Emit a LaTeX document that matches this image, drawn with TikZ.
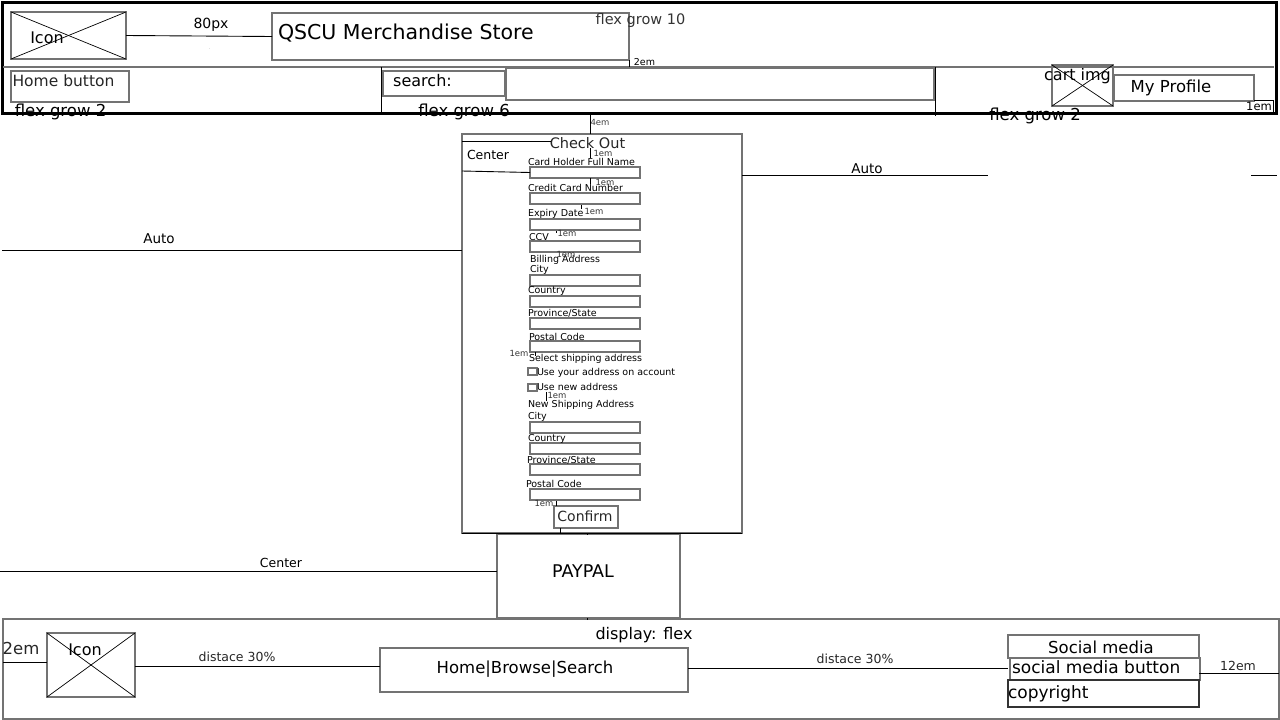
\documentclass[tikz,border=0pt]{standalone}
\usepackage{fontspec}
\setmainfont{DejaVu Sans}

\tikzset{
  panel/.style={draw=black!55, line width=1.4pt, anchor=north west, inner sep=0pt, outer sep=0pt},
  heavybox/.style={panel, line width=2.2pt},
  fieldbox/.style={panel, line width=1.3pt, minimum width=110, minimum height=11},
  checkbox/.style={panel, line width=1.2pt, minimum width=9, minimum height=7},
  wire/.style={draw=black, line width=0.9pt},
  txt/.style={inner sep=0pt, outer sep=0pt, font=\fontsize{#1}{#1}\selectfont},
  txt/.default=13,
  ltxt/.style={txt=#1, anchor=west}
}

\begin{document}
\begin{tikzpicture}[x=1pt, y=-1pt]
  \useasboundingbox (0,0) rectangle (1280,720);

  % Header
  \node[panel, draw=black, line width=3pt, minimum width=1274, minimum height=111] (header) at (2,2) {};
  \node[heavybox, minimum width=115, minimum height=47] (icon) at (11,12) {};
  \node[heavybox, minimum width=357, minimum height=47] (title) at (272,13) {};
  \node[heavybox, minimum width=118, minimum height=31] (home) at (11,71) {};
  \node[heavybox, minimum width=122, minimum height=25] (search) at (383,71) {};
  \node[heavybox, minimum width=428, minimum height=32] (searchinput) at (506,68) {};
  \node[heavybox, minimum width=61, minimum height=41] (cart) at (1052,65) {};
  \node[heavybox, minimum width=140, minimum height=26] (profile) at (1114,75) {};

  \node[txt=16] (iconlabel) at (47,38) {Icon};
  \node[ltxt=20.5] (titlelabel) at (278,33) {QSCU Merchandise Store};
  \node[txt=14.5, text=black!80] (growten) at (640.5,20) {flex grow 10};
  \node[txt=14] (px) at (211,25) {80px};
  \node[txt=3] (dot) at (209.5,49) {.};
  \node[txt=9.5] (twoem) at (644.5,62) {2em};
  \node[txt=15.5, text=black!85] (homelabel) at (63.5,81) {Home button};
  \node[txt=16] (searchlabel) at (422.5,81) {search:};
  \node[txt=16] (cartlabel) at (1077.5,76) {cart img};
  \node[txt=16.5] (profilelabel) at (1171,87.5) {My Profile};
  \node[txt=11.5] (oneemprofile) at (1259,106.5) {1em};
  \node[txt=16.5] (growa) at (60.5,112) {flex grow 2};
  \node[txt=16.5] (growb) at (464,112) {flex grow 6};
  \node[txt=16.5] (growc) at (1035,115.5) {flex grow 2};
  \node[txt=8.5, text=black!75] (fourem) at (600,122) {4em};

  % Checkout form
  \node[panel, minimum width=280, minimum height=399] (checkout) at (462,134) {};
  \node[txt=14.5, text=black!85] (checkoutlabel) at (587.5,143) {Check Out};
  \node[ltxt=12.5] (centerlabel) at (467,155) {Center};
  \node[txt=13.5] (autoa) at (867,169) {Auto};
  \node[txt=13.5] (autob) at (159,239) {Auto};

  \foreach \n/\y in {a/167,b/193,c/219,d/241,e/275,f/296,g/318,h/341,i/422,j/443,k/464,l/489}
    \node[fieldbox] (field\n) at (530,\y) {};
  \node[checkbox] (checka) at (528,368) {};
  \node[checkbox] (checkb) at (528,384) {};

  \foreach \n/\x/\y/\t in {
      a/528/162/Card Holder Full Name, b/528/188/Credit Card Number, c/528/214/Expiry Date,
      d/529/237/CCV, e/530/260/Billing Address, f/530/270/City, g/528/291/Country,
      h/528/313/Province\slash State, i/529/337/Postal Code, j/529/359/Select shipping address,
      k/537/373/Use your address on account, l/537/387/Use new address,
      m/528/405/New Shipping Address, n/528/417/City, o/528/439/Country,
      p/527/460/Province\slash State, q/526/484/Postal Code}
    \node[ltxt=9.5] (form\n) at (\x,\y) {\t};

  \foreach \n/\x/\y in {a/603/153,b/605/182,c/594/211,d/567/233,e/566/254,f/519/353,g/557/395,h/544/503}
    \node[txt=8.5, text=black!80] (oneem\n) at (\x,\y) {1em};

  \node[panel, line width=1.1pt, minimum width=64, minimum height=22] (confirm) at (554,506) {};
  \node[txt=14, text=black!85] (confirmlabel) at (585,516.5) {Confirm};
  \node[panel, minimum width=183, minimum height=84] (paypal) at (497,534) {};
  \node[txt=17.5] (paypallabel) at (583,571) {PAYPAL};
  \node[txt=12.5] (centerb) at (281,563) {Center};

  % Footer
  \node[panel, minimum width=1276, minimum height=100] (footer) at (3,619) {};
  \node[panel, minimum width=88, minimum height=64] (footicon) at (47,633) {};
  \node[panel, minimum width=308, minimum height=44] (links) at (380,648) {};
  \node[panel, minimum width=191, minimum height=23] (social) at (1008,635) {};
  \node[heavybox, line width=1.6pt, minimum width=190, minimum height=22] (socialbutton) at (1010,658) {};
  \node[panel, draw=black!80, minimum width=191, minimum height=27] (copyright) at (1008,680) {};

  \node[txt=16] (display) at (644,635) {display: flex};
  \node[txt=16.5, text=black!85] (twoemfoot) at (21,648) {2em};
  \node[txt=16] (footiconlabel) at (85,650) {Icon};
  \node[txt=12.5, text=black!85] (distacea) at (237,657) {distace 30\%};
  \node[txt=12.5, text=black!85] (distaceb) at (855,659) {distace 30\%};
  \node[txt=16.5] (linkslabel) at (525,669) {Home|Browse|Search};
  \node[txt=16.5] (sociallabel) at (1101,647) {Social media};
  \node[ltxt=17] (buttonlabel) at (1012,667) {social media button};
  \node[ltxt=17] (copylabel) at (1008,694) {copyright};
  \node[txt=12.5, text=black!85] (twelveem) at (1238,666) {12em};

  % Free ends of the lines
  \coordinate (dividerl) at (3,67);
  \coordinate (dividerr) at (1274,67);
  \coordinate (autoal) at (742,175);
  \coordinate (autoar) at (988,175);
  \coordinate (autocl) at (1251,175);
  \coordinate (autocr) at (1277,175);
  \coordinate (autobl) at (2,250);
  \coordinate (autobr) at (462,250);
  \coordinate (centerl) at (0,571);
  \coordinate (centerr) at (497,571);
  \coordinate (centerboxa) at (462,141);
  \coordinate (centerboxb) at (551,141);
  \coordinate (centerboxc) at (462,171);
  \coordinate (twoeml) at (3,662);
  \coordinate (twoemr) at (47,662);
  \coordinate (twelvel) at (1199,673);
  \coordinate (twelver) at (1279,673);
  \coordinate (linkl) at (688,668);
  \coordinate (linkr) at (1008,668);
  \coordinate (iconr) at (135,666);
  \coordinate (iconl) at (380,666);
  \coordinate (profa) at (1254,100);
  \coordinate (profb) at (1274,100);

  % Connect the nodes
  \draw[panel, line width=1.5pt] (dividerl) -- (dividerr);
  \draw[wire] (icon.east) -- (title.west);
  \foreach \b in {icon, cart, footicon} {
    \draw[wire, line width=0.7pt] (\b.north west) -- (\b.south east);
    \draw[wire, line width=0.7pt] (\b.north east) -- (\b.south west);
  }
  \draw[wire] (autoal) -- (autoar);
  \draw[wire] (autocl) -- (autocr);
  \draw[wire] (autobl) -- (autobr);
  \draw[wire] (centerl) -- (centerr);
  \draw[wire] (centerboxa) -- (centerboxb);
  \draw[wire] (centerboxc) -- (fielda.west);
  \draw[wire] (twoeml) -- (twoemr);
  \draw[wire] (twelvel) -- (twelver);
  \draw[wire] (linkl) -- (linkr);
  \draw[wire] (iconr) -- (iconl);
  \draw[wire] (profa) -- (profb);

  % Short vertical marks
  \foreach \n/\x/\ya/\yb in {a/381/67/112, b/935/67/116, c/629/60/67, d/590/113/134, e/590/148/158,
      f/590/178/184, g/581/205/209, h/556/231/233, i/535/352/356, j/546/392/401, k/556/501/506,
      l/560/528/533, m/587/533/535, n/587/618/620, o/1273/100/112}{
    \coordinate (mark\n a) at (\x,\ya);
    \coordinate (mark\n b) at (\x,\yb);
    \draw[wire] (mark\n a) -- (mark\n b);
  }
  \draw[draw=black, line width=1pt] (checkout.south west) -- (checkout.south east);
\end{tikzpicture}
\end{document}
